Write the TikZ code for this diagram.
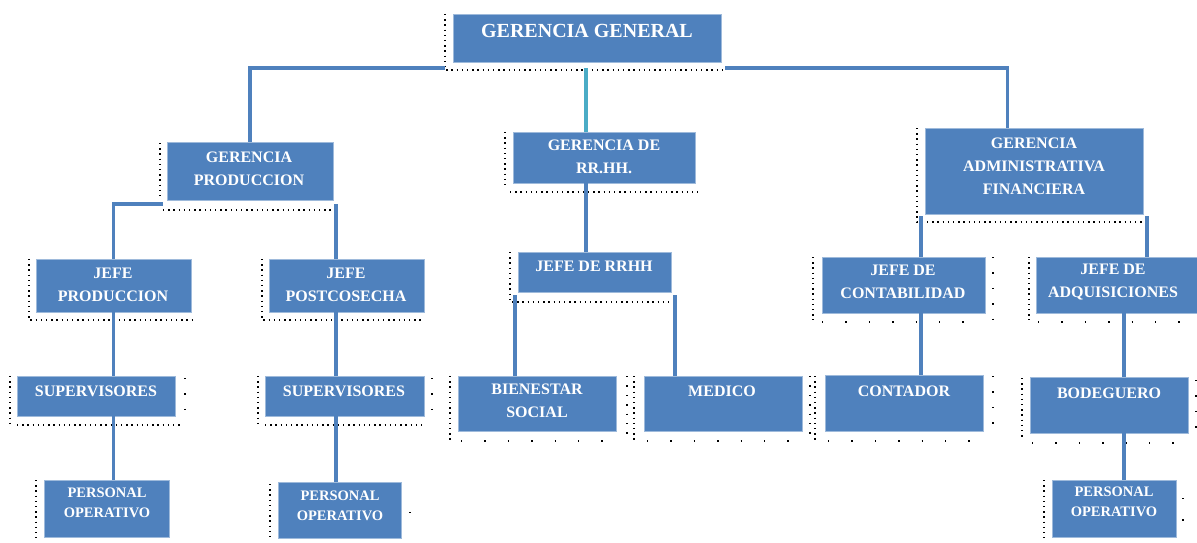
\documentclass[tikz,border=0pt]{standalone}
\usepackage{fontspec}
\setmainfont{Liberation Serif}
\usetikzlibrary{calc}
\definecolor{boxblue}{HTML}{4F81BD}
\definecolor{lineblue}{HTML}{4F81BD}
\definecolor{cyanline}{HTML}{4BACC6}
\tikzset{
  orgbox/.style={fill=boxblue, draw=boxblue!55!white, line width=0.8pt, inner sep=0pt},
  orgtext/.style={text=white, font=\bfseries\fontsize{16}{23}\selectfont, align=center, inner sep=0pt},
  bigtext/.style={orgtext, font=\bfseries\fontsize{20}{24}\selectfont},
  smalltext/.style={orgtext, font=\bfseries\fontsize{14.5}{20}\selectfont},
  conn/.style={draw=lineblue, line width=3.2pt},
  cyanconn/.style={draw=cyanline, line width=3.2pt},
  dense/.style={draw=black, line width=1.4pt, dash pattern=on 1.4pt off 3.8pt},
  sparse/.style={draw=black, line width=1.4pt, dash pattern=on 1.4pt off 22pt},
}
\newcommand\mybox[5]{\node[orgbox, minimum width={(#4)-(#2)}, minimum height={(#5)-(#3)}] (#1) at ({((#2)+(#4))/2},{((#3)+(#5))/2}) {};}
\begin{document}
\begin{tikzpicture}[x=1pt,y=-1pt]
\useasboundingbox (0,0) rectangle (1197,543);
% dotted frames
\draw[dense] (445,14) -- (445,70) -- (725,70);
\draw[dense] (160,143) -- (160,196);
\draw[dense] (163,210) -- (333,210);
\draw[dense] (505,132) -- (505,188);
\draw[dense] (510,192) -- (698,192);
\draw[dense] (917,128) -- (917,222) -- (1145,222);
\draw[dense] (29,259) -- (29,320) -- (192,320);
\draw[dense] (262,259) -- (262,320) -- (424,320);
\draw[dense] (510,252) -- (510,302) -- (672,302);
\draw[dense] (813,257) -- (813,320);
\draw[sparse] (822,322) -- (985,322);
\draw[dense,dash pattern=on 1.4pt off 14pt] (993,257) -- (993,322);
\draw[dense] (1029,257) -- (1029,320);
\draw[sparse] (1038,322) -- (1197,322);
\draw[dense] (10,376) -- (10,423);
\draw[dense,dash pattern=on 1.4pt off 14pt] (185,378) -- (185,423);
\draw[dense] (17,425) -- (180,425);
\draw[dense] (258,376) -- (258,423);
\draw[dense,dash pattern=on 1.4pt off 14pt] (432,378) -- (432,423);
\draw[dense] (265,425) -- (426,425);
\draw[dense] (450,376) -- (450,440);
\draw[dense,dash pattern=on 1.4pt off 8pt] (627,376) -- (627,440);
\draw[dense] (634,376) -- (634,440);
\draw[sparse] (461,441) -- (616,441);
\draw[dense,dash pattern=on 1.4pt off 8pt] (810,376) -- (810,440);
\draw[dense] (815,376) -- (815,440);
\draw[sparse] (647,441) -- (802,441);
\draw[sparse] (828,441) -- (983,441);
\draw[dense,dash pattern=on 1.4pt off 14pt] (993,376) -- (993,437);
\draw[dense] (1022,378) -- (1022,440);
\draw[sparse] (1032,443) -- (1188,443);
\draw[dense,dash pattern=on 1.4pt off 14pt] (1196,380) -- (1196,437);
\draw[dense] (36,480) -- (36,538);
\draw[dense] (270,484) -- (270,540);
\draw[dense,dash pattern=on 1.4pt off 60pt] (410,512) -- (410,520);
\draw[dense] (1044,480) -- (1044,538);
\draw[dense,dash pattern=on 1.4pt off 20pt] (1183,498) -- (1183,522);
% boxes
\mybox{gg}{453}{14}{721}{62}
\mybox{gp}{167}{142}{333}{200}
\mybox{grr}{513}{132}{695}{183}
\mybox{gaf}{925}{128}{1143}{214}
\mybox{jp}{36}{259}{191}{312}
\mybox{jpc}{269}{259}{424}{312}
\mybox{jrr}{518}{252}{671}{292}
\mybox{jc}{822}{257}{985}{313}
\mybox{ja}{1036}{257}{1202}{313}
\mybox{supa}{17}{376}{175}{416}
\mybox{supb}{265}{376}{424}{416}
\mybox{bs}{458}{376}{616}{431}
\mybox{med}{644}{376}{802}{431}
\mybox{cont}{825}{375}{983}{431}
\mybox{bod}{1030}{377}{1188}{433}
\mybox{poa}{44}{480}{169}{537}
\mybox{pob}{278}{482}{401}{538}
\mybox{poc}{1052}{480}{1176}{537}
% texts
\node[bigtext] (gg-t) at (587,31) {GERENCIA GENERAL};
\node[orgtext] (gp-t) at (249,168.5) {GERENCIA\\PRODUCCION};
\node[orgtext] (grr-t) at (604,156.5) {GERENCIA DE\\RR.HH.};
\node[orgtext] (gaf-t) at (1034,166) {GERENCIA\\ADMINISTRATIVA\\FINANCIERA};
\node[orgtext] (jp-t) at (113,284.5) {JEFE\\PRODUCCION};
\node[orgtext] (jpc-t) at (346,284.5) {JEFE\\POSTCOSECHA};
\node[orgtext] (jrr-t) at (594,266) {JEFE DE RRHH};
\node[orgtext] (jc-t) at (903,282) {JEFE DE\\CONTABILIDAD};
\node[orgtext] (ja-t) at (1113,282) {JEFE DE\\ADQUISICIONES};
\node[orgtext] (supa-t) at (96,391) {SUPERVISORES};
\node[orgtext] (supb-t) at (344,391) {SUPERVISORES};
\node[orgtext] (bs-t) at (537,400.5) {BIENESTAR\\SOCIAL};
\node[orgtext] (med-t) at (722,391) {MEDICO};
\node[orgtext] (cont-t) at (904,391) {CONTADOR};
\node[orgtext] (bod-t) at (1109,393) {BODEGUERO};
\node[smalltext] (poa-t) at (107,502.5) {PERSONAL\\OPERATIVO};
\node[smalltext] (pob-t) at (340,505.5) {PERSONAL\\OPERATIVO};
\node[smalltext] (poc-t) at (1114,501.5) {PERSONAL\\OPERATIVO};
% connector coordinates
\coordinate (busL) at (445,68);
\coordinate (busR) at (725,68);
\coordinate (bus) at (586,68);
\coordinate (gpL) at (163,204);
\coordinate (gpR) at (336,204);
\coordinate (jrrL) at (515,295);
\coordinate (jrrR) at (675,295);
\coordinate (gafL) at (921,216);
\coordinate (gafR) at (1147,216);
\coordinate (jaC) at (1124,313);
% connectors
\draw[conn] (gp.north) |- (busL);
\draw[conn] (busR) -| ([xshift=83pt]gaf.north west);
\draw[cyanconn] (bus) -- (bus |- grr.north);
\draw[conn] (jp.north) |- (gpL);
\draw[conn] (gpR) -- (gpR |- jpc.north);
\draw[conn] (jp.south) -- (jp.south |- supa.north);
\draw[conn] (supa.south -| jp.south) -- (poa.north -| jp.south);
\draw[conn] (jpc.south -| gpR) -- (supb.north -| gpR);
\draw[conn] (supb.south -| gpR) -- (pob.north -| gpR);
\draw[conn] (grr.south -| bus) -- (jrr.north -| bus);
\draw[conn] (jrrL) -- (jrrL |- bs.north);
\draw[conn] (jrrR) -- (jrrR |- med.north);
\draw[conn] (gafL) -- (gafL |- jc.north);
\draw[conn] (gafR) -- (gafR |- ja.north);
\draw[conn] (jc.south -| gafL) -- (cont.north -| gafL);
\draw[conn] (jaC) -- (jaC |- bod.north);
\draw[conn] (bod.south -| jaC) -- (poc.north -| jaC);
\end{tikzpicture}
\end{document}
